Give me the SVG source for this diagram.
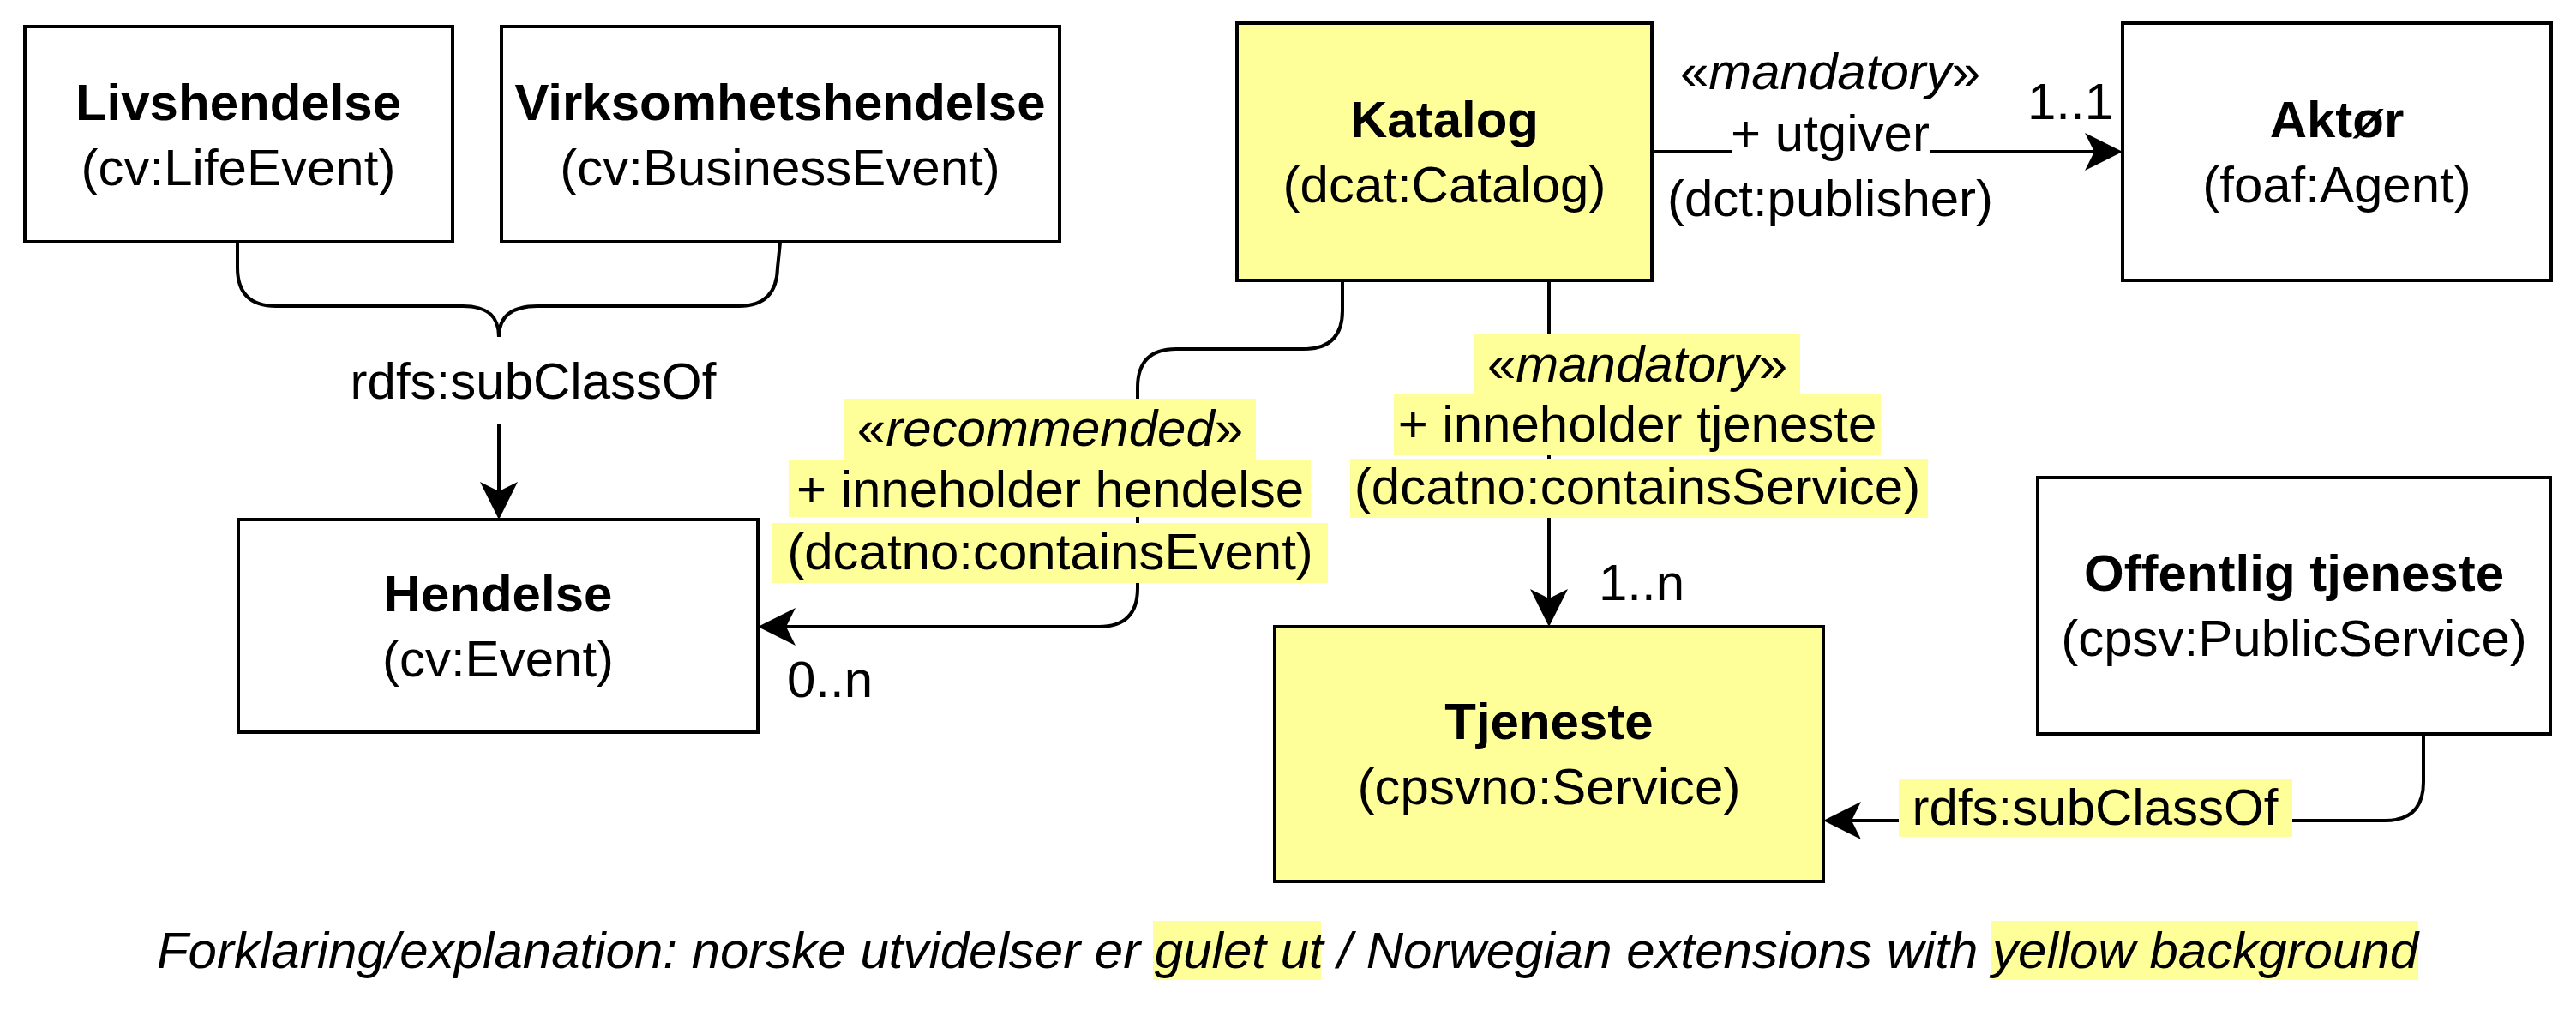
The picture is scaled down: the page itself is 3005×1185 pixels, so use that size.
<svg xmlns="http://www.w3.org/2000/svg" width="3005" height="1185" viewBox="0 0 3005 1185">
<style>
.bg{fill:#ffffff}
.node{stroke:#000;stroke-width:4}
.plain{fill:#ffffff}
.ext{fill:#ffff99}
.hl{fill:#ffff99}
.t{font-family:"Liberation Sans",Arial,sans-serif;font-size:60px;fill:#000;text-anchor:middle}
.s{text-anchor:start}
.b{font-weight:bold}
.i{font-style:italic}
.edge{fill:none;stroke:#000;stroke-width:4}
</style>
<defs>
<marker id="arr" markerUnits="userSpaceOnUse" markerWidth="46" markerHeight="46" viewBox="0 0 46 46" refX="11" refY="23" orient="auto">
<path d="M44,23 L0,1 L11,23 L0,45 Z" fill="#000"/>
</marker>
</defs>
<rect class="bg" x="0" y="0" width="3005" height="1185"/>

<g id="connectors">
<path class="edge" d="M277,283 V312 Q277,357 322,357 H540 C570,357 582,370 582,393"/>
<path class="edge" d="M910,283 L907,312 Q906,357 862,357 H627 C596,357 582,370 582,393"/>
<path class="edge" marker-end="url(#arr)" d="M582,495 V573"/>
<path class="edge" marker-end="url(#arr)" d="M1927,177 H2020 M2251,177 H2443"/>
<path class="edge" marker-end="url(#arr)" d="M1566,327 V362 Q1566,407 1521,407 H1372 Q1327,407 1327,452 V686 Q1327,731 1282,731 H917"/>
<path class="edge" marker-end="url(#arr)" d="M1807,327 V698"/>
<path class="edge" marker-end="url(#arr)" d="M2827,856 V912 Q2827,957 2782,957 H2160"/>
</g>

<g id="edge-labels">
<text class="t" x="622" y="465">rdfs:subClassOf</text>

<text class="t" x="2135" y="104">«<tspan class="i">mandatory</tspan>»</text>
<text class="t" x="2135" y="176">+ utgiver</text>
<text class="t" x="2135" y="252">(dct:publisher)</text>
<text class="t s" x="2365" y="139">1..1</text>

<rect class="hl" x="985" y="465" width="480" height="71"/>
<rect class="hl" x="920" y="536" width="609" height="67"/>
<rect class="hl" x="900" y="610" width="649" height="70"/>
<text class="t" x="1225" y="520">«<tspan class="i">recommended</tspan>»</text>
<text class="t" x="1225" y="591">+ inneholder hendelse</text>
<text class="t" x="1225" y="664">(dcatno:containsEvent)</text>
<text class="t s" x="918" y="813">0..n</text>

<rect class="hl" x="1720" y="390" width="380" height="70"/>
<rect class="hl" x="1626" y="460" width="568" height="71"/>
<rect class="hl" x="1575" y="535" width="674" height="69"/>
<text class="t" x="1910" y="445">«<tspan class="i">mandatory</tspan>»</text>
<text class="t" x="1910" y="515">+ inneholder tjeneste</text>
<text class="t" x="1910" y="588">(dcatno:containsService)</text>
<text class="t s" x="1865" y="700">1..n</text>

<rect class="hl" x="2215" y="908" width="459" height="68"/>
<text class="t" x="2444" y="962">rdfs:subClassOf</text>
</g>

<g id="livshendelse">
<rect class="node plain" x="29" y="31" width="499" height="251"/>
<text class="t b" x="278" y="140">Livshendelse</text>
<text class="t" x="278" y="216">(cv:LifeEvent)</text>
</g>
<g id="virksomhetshendelse">
<rect class="node plain" x="585" y="31" width="651" height="251"/>
<text class="t b" x="910" y="140">Virksomhetshendelse</text>
<text class="t" x="910" y="216">(cv:BusinessEvent)</text>
</g>
<g id="katalog">
<rect class="node ext" x="1443" y="27" width="484" height="300"/>
<text class="t b" x="1685" y="160">Katalog</text>
<text class="t" x="1685" y="236">(dcat:Catalog)</text>
</g>
<g id="aktor">
<rect class="node plain" x="2476" y="27" width="500" height="300"/>
<text class="t b" x="2726" y="160">Aktør</text>
<text class="t" x="2726" y="236">(foaf:Agent)</text>
</g>
<g id="hendelse">
<rect class="node plain" x="278" y="606" width="606" height="248"/>
<text class="t b" x="581" y="713">Hendelse</text>
<text class="t" x="581" y="789">(cv:Event)</text>
</g>
<g id="tjeneste">
<rect class="node ext" x="1487" y="731" width="640" height="297"/>
<text class="t b" x="1807" y="862">Tjeneste</text>
<text class="t" x="1807" y="938">(cpsvno:Service)</text>
</g>
<g id="offentlig-tjeneste">
<rect class="node plain" x="2377" y="557" width="598" height="299"/>
<text class="t b" x="2676" y="689">Offentlig tjeneste</text>
<text class="t" x="2676" y="765">(cpsv:PublicService)</text>
</g>

<g id="legend">
<rect class="hl" x="1345" y="1074" width="196" height="69"/>
<rect class="hl" x="2323" y="1074" width="498" height="69"/>
<text class="t i" x="1502" y="1129">Forklaring/explanation: norske utvidelser er gulet ut / Norwegian extensions with yellow background</text>
</g>
</svg>
